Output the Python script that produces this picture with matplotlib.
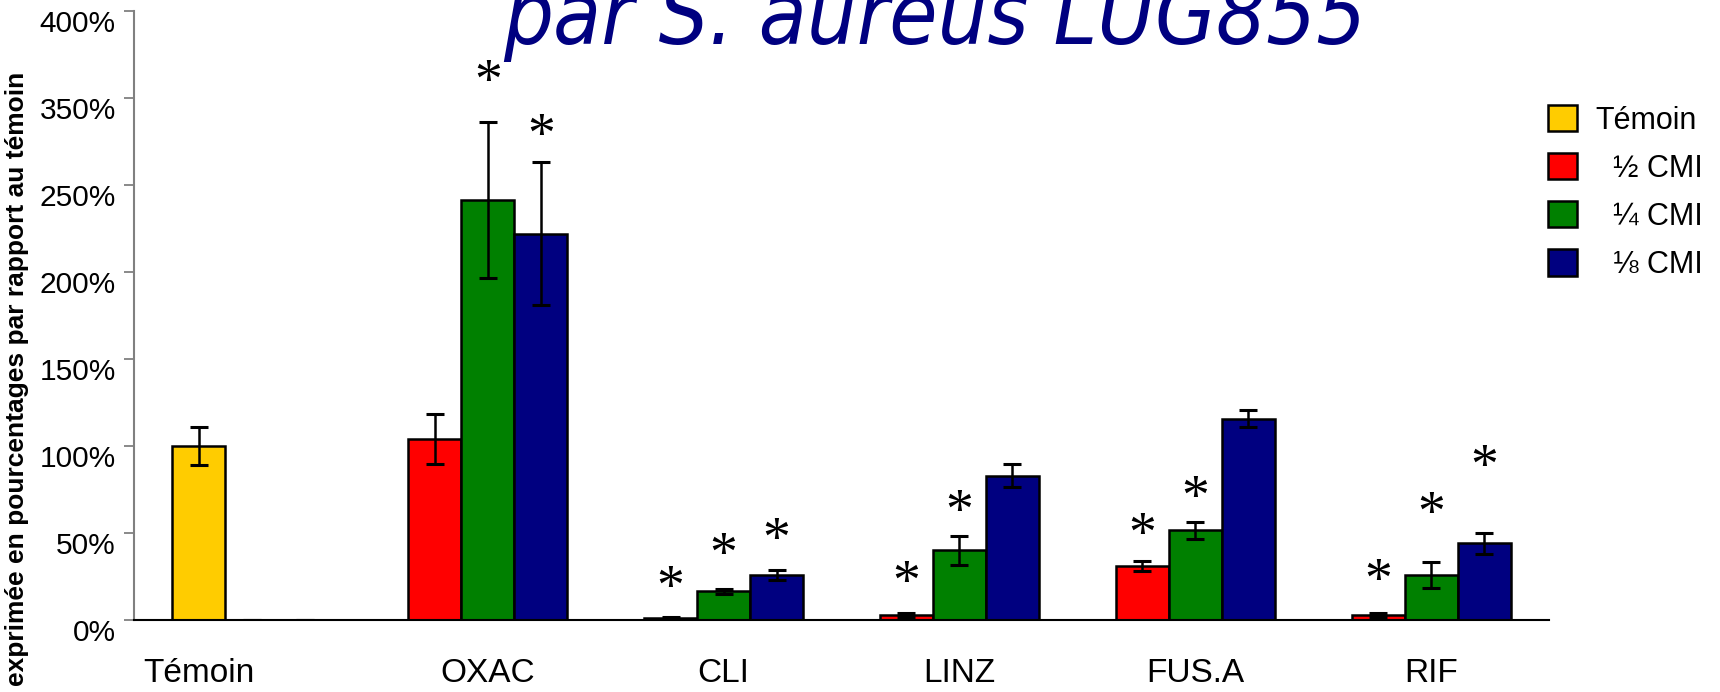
import numpy as np
import matplotlib.pyplot as plt
import matplotlib.transforms as mtransforms
from matplotlib.patches import Patch

# values (% of control), as drawn on the axis
categories = ['Témoin', 'OXAC', 'CLI', 'LINZ', 'FUS.A', 'RIF']
half_cmi = [100, 104, 1, 3, 31, 3]          # first bar (Témoin bar for the control group)
half_err = [11, 14.5, 0.5, 1, 3, 1]
quarter_cmi = [0, 241.5, 16.4, 40, 51.6, 25.8]
quarter_err = [0, 45, 1.3, 8.5, 5, 7.5]
eighth_cmi = [0, 222, 25.8, 83, 115.7, 44]
eighth_err = [0, 41, 2.8, 6.5, 5, 6.3]

# significance asterisks (height on the axis, None = no star)
stars_half = [None, None, 19, 22, 50, 23]
stars_quarter = [None, 310, 38, 63, 71, 62]
stars_eighth = [None, 279, 47, None, None, 89]

ytick_vals = [0, 50, 100, 150, 200, 250, 300, 350]
ytick_labels = ['0%', '50%', '100%', '150%', '200%', '250%', '350%', '400%']
legend_labels = ['Témoin', '  ½ CMI', '  ¼ CMI', '  ⅛ CMI']

cols = ['#FFCC00', '#FF0000', '#008000', '#000080']
plt.rcParams['font.family'] = ['Liberation Sans', 'DejaVu Sans']

fig = plt.figure(figsize=(17.2, 6.92), dpi=100)
ax = fig.add_axes([0.0779, 0.104, 0.8227, 0.880])

x = np.arange(len(categories))
w = 0.225
first_cols = [cols[0]] + [cols[1]] * (len(categories) - 1)

series = [(half_cmi, half_err, first_cols, stars_half, -w),
          (quarter_cmi, quarter_err, cols[2], stars_quarter, 0),
          (eighth_cmi, eighth_err, cols[3], stars_eighth, w)]

for vals, errs, c, stars, off in series:
    ax.bar(x + off, vals, w, color=c, edgecolor='black', linewidth=1.8, zorder=2)
    ax.errorbar(x + off, vals, yerr=errs, fmt='none', ecolor='black',
                elinewidth=1.8, capsize=6.5, capthick=2.2, zorder=3)
    for xi, s in zip(x + off, stars):
        if s is not None:
            ax.text(xi, s - 2, '*', ha='center', va='center', fontsize=40,
                    family='Liberation Serif', zorder=4)

ax.set_xlim(-0.5, 5.5)
ax.set_ylim(0, 350)

# category labels; the control label sits under its own bar
tick_pos = x.astype(float)
tick_pos[0] = -w
ax.set_xticks(tick_pos)
ax.set_xticklabels(categories, fontsize=24)
ax.tick_params(axis='x', length=0, pad=27)

ax.set_yticks(ytick_vals)
ax.set_yticklabels(ytick_labels, fontsize=21.5)
ax.tick_params(axis='y', length=7, width=1.3, color='#808080', pad=6)
offset = mtransforms.ScaledTranslation(0, -7 / 72, fig.dpi_scale_trans)
for lab in ax.get_yticklabels():
    lab.set_transform(lab.get_transform() + offset)

ax.spines['top'].set_visible(False)
ax.spines['right'].set_visible(False)
ax.spines['left'].set_color('#808080')
ax.spines['left'].set_linewidth(1.5)
ax.spines['bottom'].set_linewidth(1.5)

fig.text(0.0096, 0.452, 'exprimée en pourcentages par rapport au témoin',
         rotation=90, ha='center', va='center', fontsize=19, fontweight='bold')

fig.text(0.5436, 0.936, 'par S. aureus LUG855', ha='center', va='baseline',
         fontsize=63, style='italic', color='#000080',
         family=['DejaVu Sans'], fontstretch='condensed')

handles = [Patch(facecolor=c, edgecolor='black', linewidth=1.8) for c in cols]
fig.legend(handles, legend_labels, loc='upper left', bbox_to_anchor=(0.893, 0.866),
           frameon=False, fontsize=22, handlelength=0.95, handleheight=0.95,
           handletextpad=0.6, labelspacing=0.57, borderaxespad=0)

plt.savefig('out.png', dpi=100)
